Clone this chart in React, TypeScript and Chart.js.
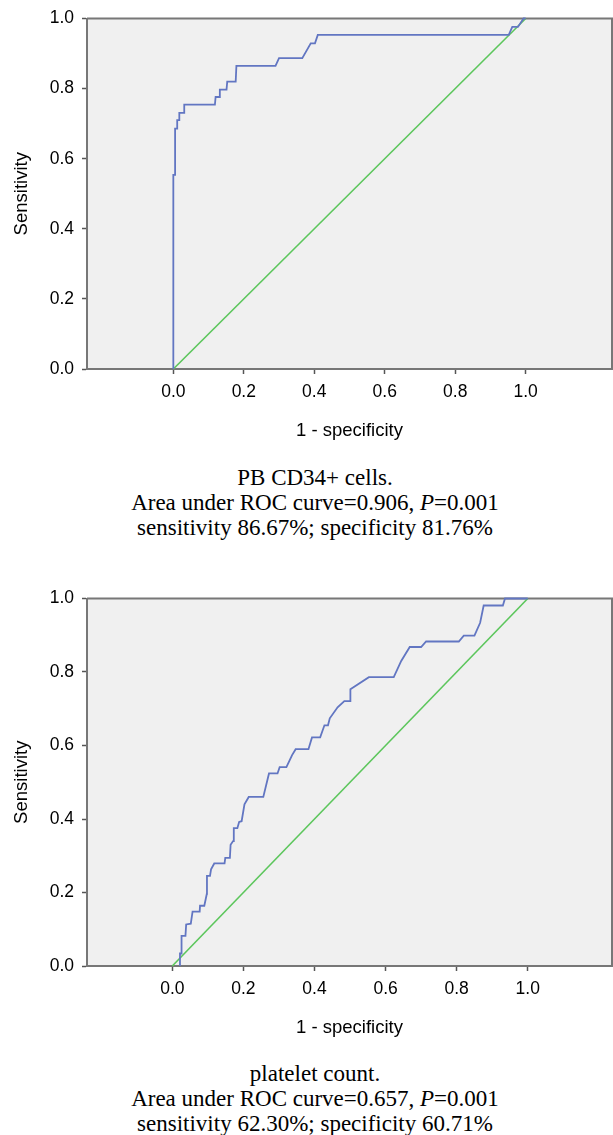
import React, { useEffect, useRef } from 'react';
import { Chart, registerables } from 'chart.js';

Chart.register(...registerables);

// ---------- data ----------
const cd34Fpr = [0, 0, 0.005, 0.005, 0.011, 0.011, 0.017, 0.017, 0.031, 0.031, 0.118, 0.12, 0.13, 0.132, 0.151, 0.153, 0.177, 0.179, 0.29, 0.3, 0.366, 0.39, 0.402, 0.41, 0.952, 0.962, 0.978, 0.994, 1.0];
const cd34Tpr = [0, 0.554, 0.554, 0.686, 0.686, 0.71, 0.71, 0.731, 0.731, 0.754, 0.754, 0.776, 0.776, 0.797, 0.797, 0.82, 0.82, 0.865, 0.865, 0.887, 0.887, 0.929, 0.929, 0.953, 0.953, 0.976, 0.976, 1.0, 1.0];

const pltFpr = [0.0216, 0.0216, 0.026, 0.026, 0.037, 0.039, 0.052, 0.057, 0.077, 0.078, 0.09, 0.097, 0.0975, 0.106, 0.109, 0.118, 0.147, 0.149, 0.162, 0.164, 0.171, 0.173, 0.183, 0.188, 0.195, 0.203, 0.215, 0.256, 0.272, 0.296, 0.302, 0.321, 0.337, 0.347, 0.383, 0.393, 0.416, 0.428, 0.438, 0.443, 0.465, 0.484, 0.5, 0.501, 0.553, 0.623, 0.644, 0.668, 0.7, 0.714, 0.806, 0.82, 0.85, 0.866, 0.876, 0.93, 0.936, 1.0];
const pltTpr = [0, 0.034, 0.034, 0.082, 0.082, 0.113, 0.115, 0.148, 0.148, 0.164, 0.164, 0.196, 0.245, 0.245, 0.263, 0.279, 0.279, 0.294, 0.294, 0.33, 0.34, 0.375, 0.375, 0.392, 0.394, 0.44, 0.46, 0.46, 0.524, 0.524, 0.541, 0.541, 0.574, 0.59, 0.59, 0.622, 0.622, 0.655, 0.655, 0.674, 0.704, 0.721, 0.721, 0.753, 0.786, 0.786, 0.83, 0.868, 0.868, 0.883, 0.883, 0.899, 0.899, 0.934, 0.981, 0.981, 1.0, 1.0];

const refFpr = [0, 1];
const refTpr = [0, 1];

const xTickValues = [0, 0.2, 0.4, 0.6, 0.8, 1.0];
const yTickValues = [0, 0.2, 0.4, 0.6, 0.8, 1.0];
const xTitle = '1 - specificity';
const yTitle = 'Sensitivity';

const cd34Caption = ['PB CD34+ cells.', 'Area under ROC curve=0.906, ', '=0.001', 'sensitivity 86.67%; specificity 81.76%'];
const pltCaption = ['platelet count.', 'Area under ROC curve=0.657, ', '=0.001', 'sensitivity 62.30%; specificity 60.71%'];

// ---------- style ----------
const SANS = '"Liberation Sans", Arial, sans-serif';
const SERIF = '"Liberation Serif", "Times New Roman", "DejaVu Serif", serif';
const BLUE = '#6276c2';
const GREEN = '#5cc65c';
const FRAME = '#777777';
const PLOT_BG = '#f0f0f0';

const framePlugin = {
  id: 'rocFrame',
  beforeDraw(chart: any) {
    const { ctx, chartArea: a } = chart;
    ctx.save();
    ctx.fillStyle = PLOT_BG;
    ctx.fillRect(a.left, a.top, a.right - a.left, a.bottom - a.top);
    ctx.restore();
  },
  beforeDatasetsDraw(chart: any) {
    const { ctx, chartArea: a } = chart;
    ctx.save();
    ctx.strokeStyle = FRAME;
    ctx.lineWidth = 2;
    ctx.beginPath();
    ctx.moveTo(a.left, a.top);
    ctx.lineTo(a.right, a.top);
    ctx.lineTo(a.right, a.bottom);
    ctx.stroke();
    ctx.restore();
  },
};

type RocProps = {
  fpr: number[];
  tpr: number[];
  xMin: number;
  xMax: number;
  top: number;
  height: number;
  plotTop: number;
  xAxisHeight: number;
};

function RocChart({ fpr, tpr, xMin, xMax, top, height, plotTop, xAxisHeight }: RocProps) {
  const ref = useRef<HTMLCanvasElement>(null);
  useEffect(() => {
    const canvas = ref.current as HTMLCanvasElement;
    const tickFont = { family: SANS, size: 17.5 };
    const titleFont = { family: SANS, size: 18.5 };
    const chart = new Chart(canvas, {
      type: 'scatter',
      data: {
        datasets: [
          {
            data: fpr.map((x, i) => ({ x, y: tpr[i] })),
            showLine: true,
            borderColor: BLUE,
            borderWidth: 1.8,
            pointRadius: 0,
            fill: false,
            clip: 4,
            order: 0,
          } as any,
          {
            data: refFpr.map((x, i) => ({ x, y: refTpr[i] })),
            showLine: true,
            borderColor: GREEN,
            borderWidth: 1.6,
            pointRadius: 0,
            fill: false,
            clip: 4,
            order: 1,
          } as any,
        ],
      },
      options: {
        responsive: false,
        animation: false,
        devicePixelRatio: 1,
        events: [],
        layout: { padding: { top: plotTop, right: 1, bottom: 0, left: 0 } },
        plugins: {
          legend: { display: false },
          tooltip: { enabled: false },
          title: { display: false },
        },
        scales: {
          x: {
            type: 'linear',
            min: xMin,
            max: xMax,
            afterBuildTicks: (s: any) => {
              s.ticks = xTickValues.map((v) => ({ value: v }));
            },
            afterFit: (s: any) => {
              s.height = xAxisHeight;
            },
            grid: { drawOnChartArea: false, drawTicks: true, tickLength: 5, tickColor: '#555', tickWidth: 1.5 },
            border: { display: true, color: FRAME, width: 2 },
            ticks: {
              color: '#000',
              font: tickFont,
              padding: 8,
              maxRotation: 0,
              autoSkip: false,
              callback: (v: any) => Number(v).toFixed(1),
            },
            title: { display: true, text: xTitle, color: '#000', font: titleFont, padding: { top: 0, bottom: 8 } },
          },
          y: {
            type: 'linear',
            min: 0,
            max: 1,
            afterBuildTicks: (s: any) => {
              s.ticks = yTickValues.map((v) => ({ value: v }));
            },
            afterFit: (s: any) => {
              s.width = 87;
            },
            grid: { drawOnChartArea: false, drawTicks: true, tickLength: 5, tickColor: '#555', tickWidth: 1.5 },
            border: { display: true, color: FRAME, width: 2 },
            ticks: {
              color: '#000',
              font: tickFont,
              padding: 8,
              autoSkip: false,
              callback: (v: any) => Number(v).toFixed(1),
            },
            title: { display: true, text: yTitle, color: '#000', font: titleFont, padding: { top: 11, bottom: 0 } },
          },
        },
      } as any,
      plugins: [framePlugin],
    });
    return () => chart.destroy();
  }, []);
  return (
    <canvas
      ref={ref}
      width={613}
      height={height}
      style={{ position: 'absolute', left: 0, top, width: 613, height, display: 'block' }}
    />
  );
}

function Caption({ lines, top }: { lines: string[]; top: number }) {
  return (
    <div
      style={{
        position: 'absolute',
        left: 17,
        width: 596,
        top,
        textAlign: 'center',
        fontFamily: SERIF,
        fontSize: 23,
        lineHeight: '25px',
        color: '#000',
        whiteSpace: 'nowrap',
      }}
    >
      <div>{lines[0]}</div>
      <div>
        {lines[1]}
        <i>P</i>
        {lines[2]}
      </div>
      <div>{lines[3]}</div>
    </div>
  );
}

export default function App() {
  return (
    <div
      style={{
        position: 'absolute',
        left: 0,
        top: 0,
        width: 613,
        height: 1135,
        overflow: 'hidden',
        background: '#fff',
      }}
    >
      <RocChart fpr={cd34Fpr} tpr={cd34Tpr} xMin={-0.245} xMax={1.245} top={0} height={450} plotTop={15.7} xAxisHeight={81} />
      <Caption lines={cd34Caption} top={464.5} />
      <RocChart fpr={pltFpr} tpr={pltTpr} xMin={-0.24} xMax={1.237} top={580} height={467} plotTop={15.7} xAxisHeight={81} />
      <Caption lines={pltCaption} top={1060.5} />
    </div>
  );
}
